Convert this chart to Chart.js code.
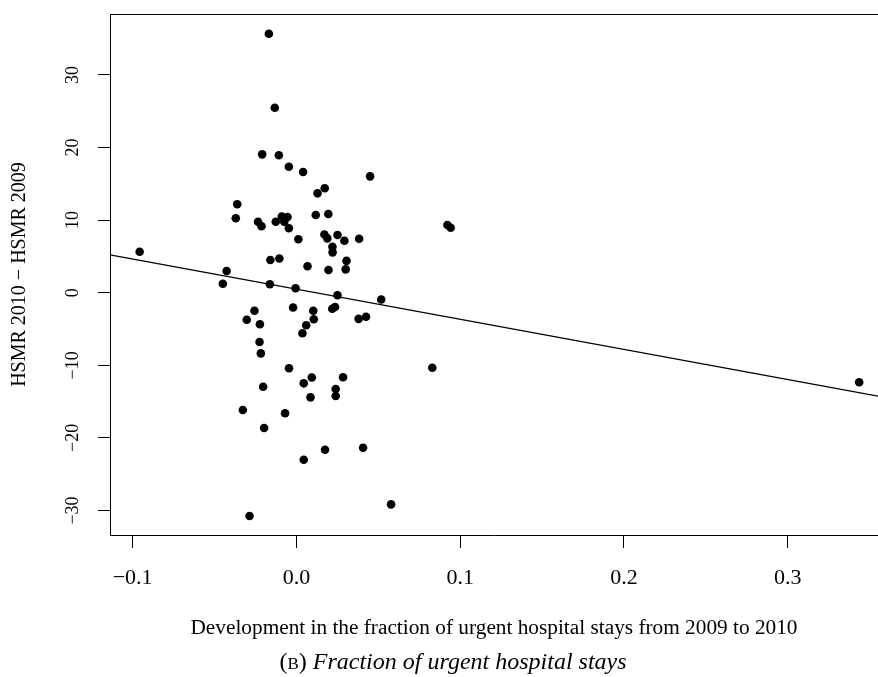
<!DOCTYPE html>
<html>
<head>
<meta charset="utf-8">
<script src="https://cdn.jsdelivr.net/npm/chart.js@4"></script>
<style>
html, body { margin: 0; padding: 0; background: #fff; overflow: hidden; }
#wrap { position: relative; width: 878px; height: 677px; }
#caption {
    position: absolute; top: 648px; left: 453px; transform: translateX(-50%);
    white-space: nowrap; font-family: "Liberation Serif", serif; font-size: 24px; color: #000;
}
</style>
</head>
<body>
<div id="wrap">
<canvas id="scatterChart" width="878" height="677"></canvas>
<div id="caption">(<span style="font-variant: small-caps">b</span>) <i>Fraction of urgent hospital stays</i></div>
</div>
<script>
// development in fraction of urgent stays (x) vs HSMR change (y), one pair per hospital
const urgentChange = [
    -0.0168, -0.0132, -0.0209, -0.0107, -0.0046, 0.0041, 0.0450, 0.0173, 0.0129, -0.0361,
    -0.0370, -0.0234, -0.0213, -0.0126, -0.0089, -0.0054, -0.0074, -0.0046, 0.0118, 0.0195,
    0.0012, 0.0171, 0.0189, 0.0251, 0.0293, 0.0383, 0.0220, 0.0221, -0.0957, -0.0159,
    -0.0104, 0.0068, 0.0196, 0.0306, 0.0301, -0.0426, -0.0449, -0.0162, -0.0005, 0.0251,
    0.0518, -0.0256, -0.0303, -0.0223, -0.0020, 0.0103, 0.0106, 0.0219, 0.0236, 0.0060,
    0.0037, 0.0380, 0.0425, -0.0225, -0.0217, -0.0045, 0.0094, 0.0285, 0.0830, -0.0203,
    0.0045, 0.0240, 0.0086, 0.0240, -0.0327, -0.0069, -0.0197, 0.0175, 0.0407, 0.0045,
    -0.0286, 0.0578, 0.0922, 0.0942, 0.3436
]
const hsmrChange = [
    35.67, 25.48, 19.06, 18.93, 17.36, 16.63, 16.03, 14.38, 13.69, 12.18,
    10.25, 9.78, 9.16, 9.78, 10.50, 10.43, 9.78, 8.87, 10.70, 10.84,
    7.37, 8.02, 7.49, 7.95, 7.16, 7.44, 6.34, 5.56, 5.65, 4.50,
    4.71, 3.64, 3.13, 4.39, 3.22, 2.99, 1.24, 1.16, 0.61, -0.34,
    -0.94, -2.48, -3.72, -4.35, -2.04, -2.49, -3.65, -2.20, -1.97, -4.49,
    -5.59, -3.60, -3.32, -6.79, -8.35, -10.40, -11.68, -11.64, -10.33, -12.95,
    -12.48, -13.26, -14.41, -14.23, -16.16, -16.61, -18.64, -21.63, -21.35, -23.00,
    -30.76, -29.15, 9.33, 8.95, -12.34
]

// fitted regression line
const fitIntercept = 0.48
const fitSlope = -41.5

const xTicks = [-0.1, 0.0, 0.1, 0.2, 0.3]
const yTicks = [-30, -20, -10, 0, 10, 20, 30]
const xMin = -0.1138
const xMax = 0.3551
const yMin = -33.37
const yMax = 38.39

const serif = "'Liberation Serif', 'Times New Roman', serif"
const minus = s => String(s).replace("-", "\u2212")

const points = urgentChange.map((x, i) => ({ x: x, y: hsmrChange[i] }))
const fitLine = [xMin, xMax].map(x => ({ x: x, y: fitIntercept + fitSlope * x }))

// no edge padding for labels, the box is fixed by layout.padding + afterFit
const noPad = s => {
    s.paddingTop = 0
    s.paddingBottom = 0
    s.paddingLeft = 0
    s.paddingRight = 0
}

const boxPlugin = {
    id: "boxPlugin",
    afterDraw(chart) {
        const { ctx, chartArea } = chart
        ctx.save()
        ctx.strokeStyle = "#000"
        ctx.lineWidth = 1
        ctx.beginPath()
        ctx.moveTo(chartArea.left, chartArea.top + 0.5)
        ctx.lineTo(chartArea.right, chartArea.top + 0.5)
        ctx.stroke()
        ctx.restore()
    }
}

const scatterChart = document.getElementById("scatterChart")

new Chart(scatterChart, {
    type: "scatter",
    data: {
        datasets: [
            {
                label: "Hospitals",
                data: points,
                backgroundColor: "#000",
                borderWidth: 0,
                pointRadius: 4.3,
                pointHoverRadius: 4.3
            },
            {
                label: "Fit",
                data: fitLine,
                showLine: true,
                borderColor: "#000",
                borderWidth: 1.3,
                pointRadius: 0
            }
        ]
    },
    options: {
        responsive: false,
        animation: false,
        devicePixelRatio: 1,
        layout: { autoPadding: false, padding: { left: 0, right: 0, top: 14, bottom: 0 } },
        plugins: {
            legend: { display: false },
            tooltip: { enabled: false }
        },
        scales: {
            x: {
                type: "linear",
                min: xMin,
                max: xMax,
                afterBuildTicks: s => { s.ticks = xTicks.map(v => ({ value: v })) },
                afterFit: s => { s.height = 142; noPad(s) },
                grid: { drawOnChartArea: false, drawTicks: true, tickLength: 13, color: "#000" },
                border: { display: true, color: "#000", width: 1 },
                ticks: {
                    autoSkip: false,
                    maxRotation: 0,
                    color: "#000",
                    padding: 17,
                    font: { family: serif, size: 22 },
                    callback: v => minus(v.toFixed(1))
                },
                title: {
                    display: true,
                    text: "Development in the fraction of urgent hospital stays from 2009 to 2010",
                    color: "#000",
                    font: { family: serif, size: 21.3 },
                    padding: { top: 0, bottom: 36 }
                }
            },
            y: {
                type: "linear",
                min: yMin,
                max: yMax,
                afterBuildTicks: s => { s.ticks = yTicks.map(v => ({ value: v })) },
                afterFit: s => { s.width = 110; noPad(s) },
                grid: { drawOnChartArea: false, drawTicks: true, tickLength: 12, color: "#000" },
                border: { display: true, color: "#000", width: 1 },
                ticks: {
                    autoSkip: false,
                    color: "#000",
                    minRotation: 90,
                    maxRotation: 90,
                    crossAlign: "center",
                    padding: 11,
                    font: { family: serif, size: 18 },
                    callback: v => minus(v)
                },
                title: {
                    display: true,
                    text: "HSMR 2010 \u2212 HSMR 2009",
                    color: "#000",
                    font: { family: serif, size: 20 },
                    padding: { top: 8, bottom: 0 }
                }
            }
        }
    },
    plugins: [boxPlugin]
})
</script>
</body>
</html>
